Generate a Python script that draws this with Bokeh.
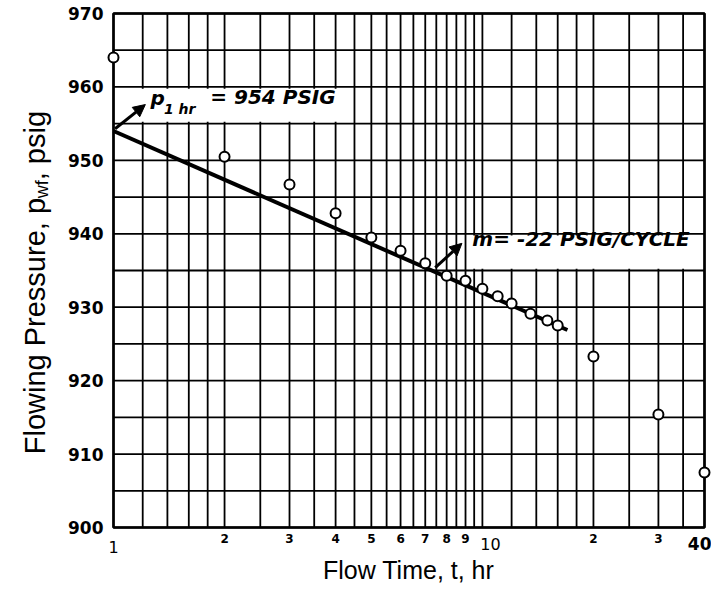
import math
import numpy as np
from bokeh.plotting import figure
from bokeh.models import Range1d, Arrow, NormalHead
from bokeh.core.properties import value
from bokeh.embed import file_html
from bokeh.resources import INLINE

# ---- data ----
time_hr = [1, 2, 3, 4, 5, 6, 7, 8, 9, 10, 11, 12, 13.5, 15, 16, 20, 30, 40]
pressure_psig = [964.0, 950.5, 946.7, 942.8, 939.5, 937.7, 936.0, 934.3, 933.6,
                 932.5, 931.5, 930.5, 929.1, 928.2, 927.5, 923.3, 915.4, 907.5]
fit_time = [1, 17]
fit_pressure = [954.0, 926.9]

x_tick_vals = [2, 3, 4, 5, 6, 7, 8, 9, 20, 30]
x_tick_text = ["2", "3", "4", "5", "6", "7", "8", "9", "2", "3"]
x_big_vals = [1, 10, 40]
x_big_text = ["1", "10", "40"]
y_tick_vals = [900, 910, 920, 930, 940, 950, 960, 970]
y_tick_text = ["900", "910", "920", "930", "940", "950", "960", "970"]

x_title = "Flow Time, t, hr"
y_title_parts = ["Flowing Pressure, p", "wf", ", psig"]
ann1_parts = ["p", "1 hr", "= 954 PSIG"]
ann2_text = "m= -22 PSIG/CYCLE"

T_MIN, T_MAX = 1, 40
P_MIN, P_MAX = 900, 970

# grid of the semi-log paper
vgrid = (list(np.arange(1, 2, 0.2)) + list(np.arange(2, 10, 0.5)) +
         list(range(10, 20, 2)) + list(range(20, 41, 5)))
hgrid = list(range(P_MIN, P_MAX + 1, 5))

# ---- layout (canvas pixels) ----
W, H = 711, 584
L, R, T, B = 113, 704, 13, 527          # chart area inside the canvas
dec = (R - L) / math.log10(T_MAX / T_MIN)
ppx = (B - T) / (P_MAX - P_MIN)
x_rng = Range1d(10 ** (math.log10(T_MIN) - L / dec), 10 ** (math.log10(T_MAX) + (W - R) / dec))
y_rng = Range1d(P_MIN - (H - B) / ppx, P_MAX + T / ppx)

p = figure(width=W, height=H, x_axis_type="log", x_range=x_rng, y_range=y_rng,
           x_axis_location=None, y_axis_location=None,
           output_backend="svg", toolbar_location=None, min_border=0)
p.outline_line_color = None
p.background_fill_color = "white"
p.border_fill_color = "white"
p.grid.visible = False

# grid lines
p.segment(x0=vgrid, y0=[P_MIN] * len(vgrid), x1=vgrid, y1=[P_MAX] * len(vgrid),
          line_color="black", line_width=1.8)
p.segment(x0=[T_MIN] * len(hgrid), y0=hgrid, x1=[T_MAX] * len(hgrid), y1=hgrid,
          line_color="black", line_width=1.8)

# white label boxes on the paper
p.quad(left=[1.02, 9.3], right=[4.3, 39.7], bottom=[955.25, 935.25], top=[959.75, 939.75],
       fill_color="white", line_color=None)

# frame
p.quad(left=[T_MIN], right=[T_MAX], bottom=[P_MIN], top=[P_MAX], fill_color=None,
       line_color="black", line_width=2.6)

# fitted straight line and data points
p.line(fit_time, fit_pressure, line_width=4, line_color="black")
p.scatter(time_hr, pressure_psig, marker="circle", size=10, fill_color="white",
          line_color="black", line_width=2)

# tick labels
num_font = value("DejaVu Sans")
p.text(x=[T_MIN] * len(y_tick_vals), y=y_tick_vals, text=y_tick_text, x_offset=-10,
       text_align="right", text_baseline="middle", text_font=num_font,
       text_font_style="bold", text_font_size="17px", text_color="black")
p.text(x=x_tick_vals, y=[P_MIN] * len(x_tick_vals), text=x_tick_text, y_offset=6,
       text_align="center", text_baseline="top", text_font=num_font,
       text_font_style="bold", text_font_size="12px", text_color="black")
p.text(x=x_big_vals[:2], y=[P_MIN] * 2, text=x_big_text[:2], x_offset=[0, 8],
       y_offset=[13, 10], text_align="center", text_baseline="top", text_font=num_font,
       text_font_size="16px", text_color="black")
p.text(x=x_big_vals[2:], y=[P_MIN], text=x_big_text[2:], x_offset=7, y_offset=9,
       text_align="right", text_baseline="top", text_font=num_font,
       text_font_style="bold", text_font_size="17px", text_color="black")

# axis titles
title_font = value("Liberation Sans")
p.text(x=[6.31], y=[P_MIN], text=[x_title], y_offset=42, text_align="center",
       text_baseline="alphabetic", text_font=title_font, text_font_size="25px",
       text_color="black")
y_mid = 933.4
p.text(x=[T_MIN], y=[y_mid], text=[y_title_parts[0]], x_offset=-79, y_offset=172,
       angle=math.pi / 2, text_align="left", text_baseline="alphabetic",
       text_font=title_font, text_font_size="29px", text_color="black")
p.text(x=[T_MIN], y=[y_mid], text=[y_title_parts[1]], x_offset=-72, y_offset=172 - 256,
       angle=math.pi / 2, text_align="left", text_baseline="alphabetic",
       text_font=title_font, text_font_size="18px", text_color="black")
p.text(x=[T_MIN], y=[y_mid], text=[y_title_parts[2]], x_offset=-79, y_offset=172 - 274,
       angle=math.pi / 2, text_align="left", text_baseline="alphabetic",
       text_font=title_font, text_font_size="29px", text_color="black")

# annotations
ann_font = value("DejaVu Sans")
p.text(x=[1.26], y=[956.8], text=[ann1_parts[0]], text_font=ann_font,
       text_font_style="bold italic", text_font_size="20px", text_color="black")
p.text(x=[1.37], y=[955.9], text=[ann1_parts[1]], text_font=ann_font,
       text_font_style="bold italic", text_font_size="14px", text_color="black")
p.text(x=[1.83], y=[957.06], text=[ann1_parts[2]], text_font=ann_font,
       text_font_style="bold italic", text_font_size="20px", text_color="black")
p.text(x=[9.39], y=[937.72], text=[ann2_text], text_font=ann_font,
       text_font_style="bold italic", text_font_size="20px", text_color="black")

p.add_layout(Arrow(end=NormalHead(size=12, fill_color="black", line_color="black"),
                   x_start=1.01, y_start=954.3, x_end=1.22, y_end=957.6,
                   line_width=3, line_color="black"))
p.add_layout(Arrow(end=NormalHead(size=12, fill_color="black", line_color="black"),
                   x_start=7.45, y_start=935.4, x_end=8.8, y_end=938.7,
                   line_width=3, line_color="black"))

open("out.html", "w").write(file_html(p, INLINE))
